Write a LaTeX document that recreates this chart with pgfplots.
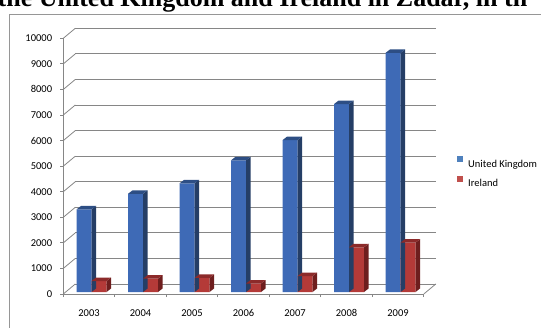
\documentclass[border=0pt]{standalone}
\usepackage{pgfplots}
\pgfplotsset{compat=1.18}
\usepackage{fontspec}
\setmainfont{Carlito}
\newfontfamily\titlefont{Liberation Serif}

\definecolor{ukfront}{RGB}{62,106,182}
\definecolor{ukside}{RGB}{37,62,102}
\definecolor{uktop}{RGB}{45,78,132}
\definecolor{iefront}{RGB}{180,58,56}
\definecolor{ieside}{RGB}{110,30,30}
\definecolor{ietop}{RGB}{140,42,42}
\definecolor{gridgray}{RGB}{134,134,134}
\definecolor{framegray}{RGB}{150,150,150}
\definecolor{ukleg}{RGB}{79,129,189}
\definecolor{ieleg}{RGB}{192,80,77}

\pgfdeclareplotmark{ukfaces}{%
  \pgfmathsetmacro\barh{\barval*0.02557}%
  \pgfpathmoveto{\pgfqpoint{7.5pt}{0pt}}%
  \pgfpathlineto{\pgfqpoint{12pt}{3.5pt}}%
  \pgfpathlineto{\pgfpoint{12pt}{3.5pt-\barh pt}}%
  \pgfpathlineto{\pgfpoint{7.5pt}{-\barh pt}}%
  \pgfpathclose
  \pgfsetfillcolor{ukside}\pgfusepath{fill}%
  \pgfpathmoveto{\pgfqpoint{-7.5pt}{0pt}}%
  \pgfpathlineto{\pgfqpoint{7.5pt}{0pt}}%
  \pgfpathlineto{\pgfqpoint{12pt}{3.5pt}}%
  \pgfpathlineto{\pgfqpoint{-3pt}{3.5pt}}%
  \pgfpathclose
  \pgfsetfillcolor{uktop}\pgfusepath{fill}%
}
\pgfdeclareplotmark{iefaces}{%
  \pgfmathsetmacro\barh{\barval*0.02557}%
  \pgfpathmoveto{\pgfqpoint{7.5pt}{0pt}}%
  \pgfpathlineto{\pgfqpoint{12pt}{3.5pt}}%
  \pgfpathlineto{\pgfpoint{12pt}{3.5pt-\barh pt}}%
  \pgfpathlineto{\pgfpoint{7.5pt}{-\barh pt}}%
  \pgfpathclose
  \pgfsetfillcolor{ieside}\pgfusepath{fill}%
  \pgfpathmoveto{\pgfqpoint{-7.5pt}{0pt}}%
  \pgfpathlineto{\pgfqpoint{7.5pt}{0pt}}%
  \pgfpathlineto{\pgfqpoint{12pt}{3.5pt}}%
  \pgfpathlineto{\pgfqpoint{-3pt}{3.5pt}}%
  \pgfpathclose
  \pgfsetfillcolor{ietop}\pgfusepath{fill}%
}

\pgfplotstableread{
x uk ie
0 3230 430
1 3840 520
2 4250 550
3 5150 330
4 5940 620
5 7350 1750
6 9350 1930
}\datatable

\begin{document}
\begin{tikzpicture}
\useasboundingbox (0,0) rectangle (541pt,327pt);
\clip (0,0) rectangle (541pt,327pt);
\draw[framegray, line width=0.8pt] (9pt,-10pt) -- (9pt,313pt) -- (560pt,313pt);
\node[anchor=base west, inner sep=0pt, font=\titlefont\bfseries\fontsize{26}{30}\selectfont] at (-2.5pt,320.5pt) {the United Kingdom and Ireland in Zadar, in th};

% back wall with gridlines
\begin{axis}[
  at={(75.3pt,43pt)}, anchor=south west,
  scale only axis, width=360.5pt, height=255.7pt,
  xmin=-0.5, xmax=6.5, ymin=0, ymax=10000,
  xtick=\empty, ytick={0,1000,...,10000}, yticklabels={},
  scaled y ticks=false,
  axis line style={draw=none}, major tick length=0pt,
  ymajorgrids, grid style={gridgray, line width=0.8pt},
]
\end{axis}

\begin{axis}[
  at={(63.3pt,33pt)}, anchor=south west,
  scale only axis, width=360.5pt, height=255.7pt,
  xmin=-0.5, xmax=6.5, ymin=0, ymax=10000,
  clip=false,
  axis x line*=bottom, axis y line*=left,
  axis line style={gridgray, line width=0.8pt, -},
  xtick={-0.5,0.5,...,6.5}, x tick label as interval,
  xticklabels={2003,2004,2005,2006,2007,2008,2009},
  ytick={0,1000,...,10000},
  tick align=outside, major tick length=3pt,
  tick style={gridgray, line width=0.8pt},
  tick label style={font=\fontsize{10.5}{12}\selectfont, black},
  /pgf/number format/assume math mode=true,
  /pgf/number format/1000 sep={},
  scaled y ticks=false,
  yticklabel style={inner sep=0pt, xshift=-8pt},
  xticklabel style={inner sep=0pt, yshift=-12pt},
  legend style={at={(axis description cs:1.0921,0.473)}, anchor=west,
    draw=none, fill=none, inner sep=0pt, row sep=6pt, column sep=4pt,
    font=\fontsize{10.5}{12}\selectfont,
    nodes={inner sep=1pt, text height=7pt, text depth=2pt}},
  legend cell align=left,
]
\pgfplotsinvokeforeach{0,1000,2000,3000,4000,5000,6000,7000,8000,9000,10000}{
  \draw[gridgray, line width=0.8pt] (axis cs:-0.5,#1) -- ++(12pt,10pt);
}
\draw[gridgray, line width=0.8pt] (axis cs:6.5,0) -- ++(12pt,10pt);

\addplot[ybar, bar width=15pt, bar shift=-5pt, yshift=2pt, draw=none, fill=ukfront,
  legend image code/.code={\fill[ukleg] (0pt,0.3pt) rectangle (6pt,6.3pt);}]
  table[x=x, y=uk] {\datatable};
\addlegendentry{United Kingdom}
\addplot[only marks, mark=ukfaces, xshift=-5pt, yshift=2pt,
  visualization depends on={rawy \as \barval}, forget plot]
  table[x=x, y=uk] {\datatable};

\addplot[ybar, bar width=15pt, bar shift=10pt, yshift=2pt, draw=none, fill=iefront,
  legend image code/.code={\fill[ieleg] (0pt,0.3pt) rectangle (6pt,6.3pt);}]
  table[x=x, y=ie] {\datatable};
\addlegendentry{Ireland}
\addplot[only marks, mark=iefaces, xshift=10pt, yshift=2pt,
  visualization depends on={rawy \as \barval}, forget plot]
  table[x=x, y=ie] {\datatable};
\end{axis}
\end{tikzpicture}
\end{document}
